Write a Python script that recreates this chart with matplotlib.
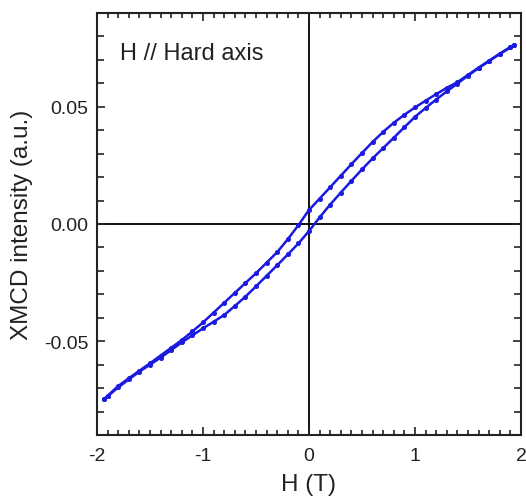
import matplotlib
matplotlib.use("Agg")
import matplotlib.pyplot as plt
import matplotlib.ticker as ticker

plt.rcParams['font.family'] = ['Liberation Sans', 'DejaVu Sans']

# branch going down from +2 T (upper branch)
h_down = [1.93, 1.9, 1.8, 1.7, 1.6, 1.5, 1.4, 1.3, 1.2, 1.1, 1.0, 0.9, 0.8, 0.7, 0.6, 0.5,
          0.4, 0.3, 0.2, 0.1, 0.0, -0.1, -0.2, -0.3, -0.4, -0.5, -0.6, -0.7, -0.8, -0.9,
          -1.0, -1.1, -1.2, -1.3, -1.4, -1.5, -1.6, -1.7, -1.8, -1.9, -1.93]
m_down = [0.0764, 0.0755, 0.0727, 0.0697, 0.0667, 0.0636, 0.0605, 0.0581, 0.0554, 0.0526,
          0.0497, 0.0466, 0.0432, 0.0393, 0.0350, 0.0303, 0.0255, 0.0206, 0.0157, 0.0108,
          0.0060, -0.0005, -0.0065, -0.0120, -0.0165, -0.0210, -0.0252, -0.0294, -0.0336,
          -0.0378, -0.0420, -0.0458, -0.0495, -0.0528, -0.0561, -0.0594, -0.0626, -0.0658,
          -0.0691, -0.0733, -0.0745]

# branch going up from -2 T (lower branch)
h_up = [-1.93, -1.9, -1.8, -1.7, -1.6, -1.5, -1.4, -1.3, -1.2, -1.1, -1.0, -0.9, -0.8, -0.7,
        -0.6, -0.5, -0.4, -0.3, -0.2, -0.1, 0.0, 0.1, 0.2, 0.3, 0.4, 0.5, 0.6, 0.7, 0.8, 0.9,
        1.0, 1.1, 1.2, 1.3, 1.4, 1.5, 1.6, 1.7, 1.8, 1.9, 1.93]
m_up = [-0.0745, -0.0735, -0.0697, -0.0663, -0.0630, -0.0600, -0.0570, -0.0538, -0.0505,
        -0.0475, -0.0445, -0.0417, -0.0388, -0.0350, -0.0310, -0.0266, -0.0221, -0.0176,
        -0.0130, -0.0083, -0.0030, 0.0028, 0.0083, 0.0134, 0.0184, 0.0233, 0.0280, 0.0324,
        0.0368, 0.0413, 0.0457, 0.0495, 0.0531, 0.0566, 0.0599, 0.0633, 0.0665, 0.0695,
        0.0725, 0.0753, 0.0764]

x_ticks = [-2, -1, 0, 1, 2]
y_ticks = [-0.05, 0.00, 0.05]

fig = plt.figure(figsize=(5.26, 5.02), dpi=100)
ax = fig.add_axes([0.1844, 0.1315, 0.8061, 0.8406])

ax.axhline(0, color='black', lw=1.3, zorder=1)
ax.axvline(0, color='black', lw=1.3, zorder=1)

line_color = '#1a1ae0'
ax.plot(h_down, m_down, color=line_color, lw=1.8, marker='o', ms=2.6, zorder=3)
ax.plot(h_up, m_up, color=line_color, lw=1.8, marker='o', ms=2.6, zorder=3)

ax.set_xlim(-2, 2)
ax.set_ylim(-0.09, 0.09)
ax.set_xticks(x_ticks)
ax.set_yticks(y_ticks)
ax.xaxis.set_major_formatter(ticker.FuncFormatter(lambda v, _: f'{v:.0f}'))
ax.yaxis.set_major_formatter(ticker.FormatStrFormatter('%.2f'))
ax.xaxis.set_minor_locator(ticker.MultipleLocator(0.1))
ax.yaxis.set_minor_locator(ticker.MultipleLocator(0.01))

ax.tick_params(which='both', direction='in', top=True, right=True, width=1.2,
               labelsize=14, color='#222222', labelcolor='#222222')
ax.tick_params(which='major', length=6)
ax.tick_params(axis='x', which='major', pad=9)
ax.tick_params(axis='y', which='major', pad=6)
ax.tick_params(which='minor', length=3.5)
ax.tick_params(axis='y', which='minor', length=5)

for sp in ax.spines.values():
    sp.set_linewidth(1.5)
    sp.set_color('#222222')

ax.set_xlabel('H (T)', fontsize=17.5, labelpad=6, color='#222222')
ax.set_ylabel('XMCD intensity (a.u.)', fontsize=17.5, labelpad=8, color='#222222')

ax.text(0.055, 0.905, 'H // Hard axis', transform=ax.transAxes, fontsize=17,
        ha='left', va='center', color='#222222')

fig.savefig('out.png', dpi=100)
